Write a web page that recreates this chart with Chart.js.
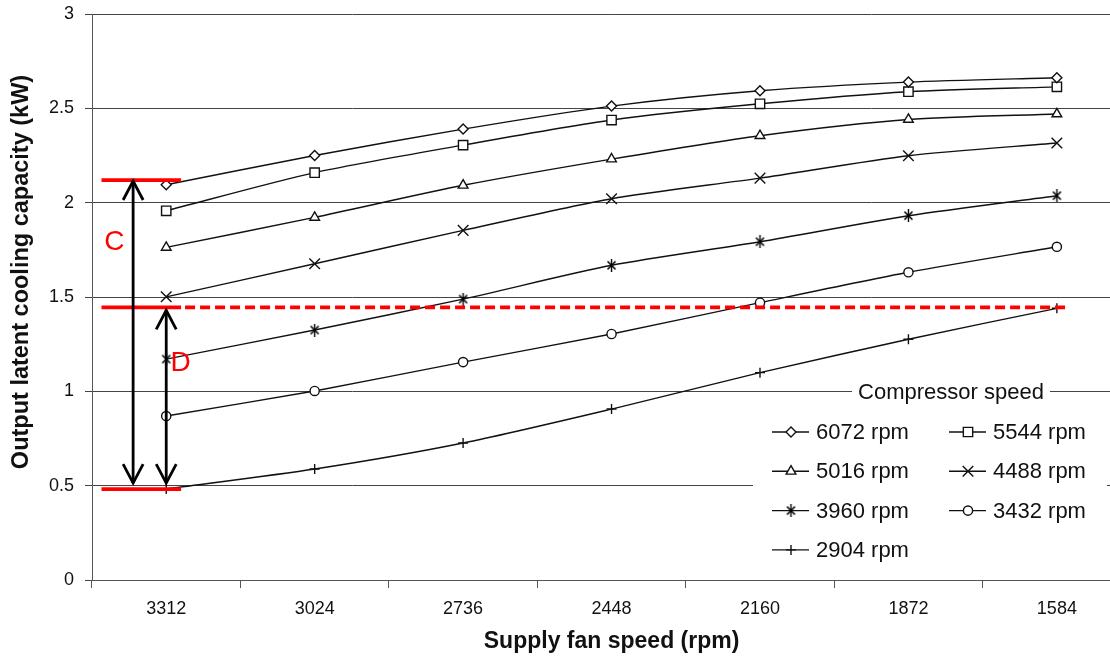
<!DOCTYPE html>
<html>
<head>
<meta charset="utf-8">
<script src="https://cdn.jsdelivr.net/npm/chart.js@4.4.1/dist/chart.umd.min.js"></script>
<style>
  html, body { margin: 0; padding: 0; background: #fff; overflow: hidden; }
  #wrap { width: 1140px; height: 656px; }
</style>
</head>
<body>
<div id="wrap"><canvas id="c" width="1140" height="656"></canvas></div>
<script>
// Supply fan speed categories (rpm)
const fanSpeeds = ['3312', '3024', '2736', '2448', '2160', '1872', '1584'];

// Output latent cooling capacity (kW) per compressor speed
const rpm6072 = [2.095, 2.250, 2.390, 2.512, 2.593, 2.639, 2.662];
const rpm5544 = [1.957, 2.159, 2.305, 2.438, 2.524, 2.588, 2.614];
const rpm5016 = [1.763, 1.922, 2.092, 2.231, 2.355, 2.441, 2.470];
const rpm4488 = [1.501, 1.676, 1.853, 2.021, 2.130, 2.249, 2.316];
const rpm3960 = [1.171, 1.325, 1.489, 1.668, 1.793, 1.931, 2.037];
const rpm3432 = [0.869, 1.002, 1.155, 1.304, 1.470, 1.631, 1.766];
const rpm2904 = [0.482, 0.588, 0.726, 0.906, 1.099, 1.276, 1.440];

const seriesLabels = ['6072 rpm', '5544 rpm', '5016 rpm', '4488 rpm', '3960 rpm', '3432 rpm', '2904 rpm'];
const seriesValues = [rpm6072, rpm5544, rpm5016, rpm4488, rpm3960, rpm3432, rpm2904];

// Capacity levels marking the C and D ranges (kW)
const levelTop = 2.12;
const levelMid = 1.445;
const levelBottom = 0.482;

const yTitle = 'Output latent cooling capacity (kW)';
const xTitle = 'Supply fan speed (rpm)';
const legendTitle = 'Compressor speed';

const FONT = "'Liberation Sans', Arial, sans-serif";
const INK = '#111';

// asterisk marker: an x with a vertical stroke through it
function asterisk() {
  const s = 13, c = document.createElement('canvas');
  c.width = s; c.height = s;
  const g = c.getContext('2d');
  g.strokeStyle = '#000'; g.lineWidth = 1.6;
  g.beginPath();
  g.moveTo(2.5, 2.5); g.lineTo(10.5, 10.5);
  g.moveTo(10.5, 2.5); g.lineTo(2.5, 10.5);
  g.stroke();
  g.lineWidth = 1.4;
  g.beginPath();
  g.moveTo(6.5, 0); g.lineTo(6.5, 13);
  g.stroke();
  return c;
}

const markerStyles = ['rectRot', 'rect', 'triangle', 'crossRot', asterisk(), 'circle', 'cross'];
const markerRadius = [5, 6.6, 5.6, 7.5, 6, 4.6, 5];

const datasets = seriesValues.map((vals, i) => ({
  label: seriesLabels[i],
  data: vals,
  borderColor: INK,
  borderWidth: 1.4,
  tension: 0.25,
  pointStyle: markerStyles[i],
  pointRadius: markerRadius[i],
  pointHoverRadius: markerRadius[i],
  pointBackgroundColor: '#fff',
  pointBorderColor: INK,
  pointBorderWidth: 1.4,
  fill: false
}));

// draws the rotated y-axis title, the in-plot legend and the C / D markings
const overlay = {
  id: 'overlay',
  afterDraw(chart) {
    const { ctx, scales: { x, y } } = chart;
    const step = x.getPixelForValue(1) - x.getPixelForValue(0);
    const px = (idx) => x.getPixelForValue(0) + idx * step;

    // y-axis title
    ctx.save();
    ctx.translate(22, 272);
    ctx.rotate(-Math.PI / 2);
    ctx.font = 'bold 23.5px ' + FONT;
    ctx.fillStyle = INK;
    ctx.textAlign = 'center';
    ctx.textBaseline = 'middle';
    ctx.fillText(yTitle, 0, 0);
    ctx.restore();

    // legend
    ctx.save();
    ctx.fillStyle = '#fff';
    ctx.fillRect(753, 401, 354, 172);
    ctx.font = '22px ' + FONT;
    const tw = ctx.measureText(legendTitle).width;
    const tcx = 951;
    ctx.fillRect(tcx - tw / 2 - 6, 381, tw + 12, 22);
    ctx.fillStyle = INK;
    ctx.textAlign = 'center';
    ctx.textBaseline = 'middle';
    ctx.fillText(legendTitle, tcx, 393);
    const colX = [772, 949];
    const rowY0 = 432, rowGap = 39.3;
    ctx.textAlign = 'left';
    datasets.forEach((ds, i) => {
      const lx = colX[i % 2];
      const ly = rowY0 + Math.floor(i / 2) * rowGap;
      ctx.strokeStyle = INK;
      ctx.lineWidth = 1.4;
      ctx.beginPath();
      ctx.moveTo(lx, ly); ctx.lineTo(lx + 37, ly);
      ctx.stroke();
      ctx.fillStyle = '#fff';
      Chart.helpers.drawPoint(ctx, {
        pointStyle: ds.pointStyle, radius: ds.pointRadius, rotation: 0, borderWidth: 1.4
      }, lx + 19, ly);
      ctx.fillStyle = INK;
      ctx.fillText(ds.label, lx + 44, ly + 1);
    });
    ctx.restore();

    // C / D level lines
    ctx.save();
    ctx.strokeStyle = '#ff0000';
    ctx.lineWidth = 3.8;
    const x0 = px(-0.436), x1 = px(0.1);
    [levelTop, levelMid, levelBottom].forEach(v => {
      const yy = y.getPixelForValue(v);
      ctx.beginPath(); ctx.moveTo(x0, yy); ctx.lineTo(x1, yy); ctx.stroke();
    });
    const ym = y.getPixelForValue(levelMid);
    ctx.setLineDash([10, 5]);
    ctx.beginPath(); ctx.moveTo(x1 + 4, ym); ctx.lineTo(px(6.08), ym); ctx.stroke();
    ctx.setLineDash([]);

    // double-headed arrows
    ctx.strokeStyle = '#000';
    ctx.lineWidth = 2.8;
    function arrow(xa, ya, yb) {
      ctx.beginPath(); ctx.moveTo(xa, ya); ctx.lineTo(xa, yb); ctx.stroke();
      ctx.beginPath();
      ctx.moveTo(xa - 10, ya + 19); ctx.lineTo(xa, ya); ctx.lineTo(xa + 10, ya + 19);
      ctx.moveTo(xa - 10, yb - 19); ctx.lineTo(xa, yb); ctx.lineTo(xa + 10, yb - 19);
      ctx.stroke();
    }
    const yBot = y.getPixelForValue(levelBottom) - 6;
    arrow(px(-0.223), y.getPixelForValue(levelTop) + 1, yBot);
    arrow(px(0), ym + 3, yBot);

    ctx.fillStyle = '#ff0000';
    ctx.font = '28px ' + FONT;
    ctx.textAlign = 'center';
    ctx.textBaseline = 'middle';
    ctx.fillText('C', px(-0.35), y.getPixelForValue(1.79));
    ctx.fillText('D', px(0.097), y.getPixelForValue(1.15));
    ctx.restore();
  }
};

new Chart(document.getElementById('c'), {
  type: 'line',
  data: { labels: fanSpeeds, datasets },
  options: {
    responsive: false,
    animation: false,
    events: [],
    layout: { padding: { top: 14, right: 4, left: 0, bottom: 0 } },
    plugins: { legend: { display: false }, tooltip: { enabled: false } },
    scales: {
      x: {
        type: 'category',
        offset: true,
        grid: { offset: true, drawOnChartArea: false, drawTicks: true, tickLength: 8, color: '#555' },
        border: { color: '#555', width: 1 },
        ticks: { color: INK, font: { family: FONT, size: 18 }, padding: 10, maxRotation: 0, autoSkip: false },
        title: { display: true, text: xTitle, color: INK, font: { family: FONT, size: 23, weight: 'bold' }, padding: { top: 0, bottom: 1 } },
        afterFit(s) { s.height = 76; s.paddingLeft = 0; s.paddingRight = 0; }
      },
      y: {
        min: 0,
        max: 3,
        ticks: {
          stepSize: 0.5, color: INK, font: { family: FONT, size: 18 }, padding: 11,
          callback: (v) => String(Number(v.toFixed(2)))
        },
        grid: { color: '#444', lineWidth: 1, tickLength: 7 },
        border: { color: '#555', width: 1 },
        afterFit(s) { s.width = 92; s.paddingTop = 0; s.paddingBottom = 0; }
      }
    }
  },
  plugins: [overlay]
});
</script>
</body>
</html>
